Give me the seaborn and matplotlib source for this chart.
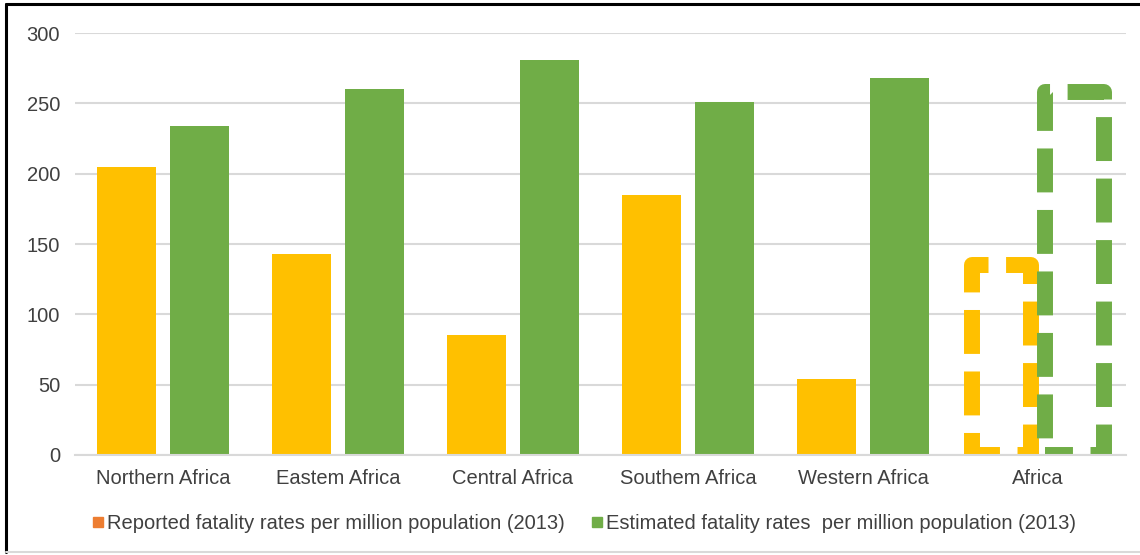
import matplotlib
matplotlib.use("Agg")
import matplotlib.pyplot as plt
from matplotlib.lines import Line2D
import seaborn as sns
import pandas as pd

categories = ["Northern Africa", "Eastern Africa", "Central Africa",
              "Southern Africa", "Western Africa", "Africa"]
tick_labels = ["Northern Africa", "Eastem Africa", "Central Africa",
               "Southem Africa", "Western Africa", "Africa"]
reported = [205, 143, 85, 185, 54, 135]
estimated = [234, 260, 281, 251, 268, 258]
series_names = ["Reported fatality rates per million population (2013)",
                "Estimated fatality rates  per million population (2013)"]

YELLOW = "#FFC000"
GREEN = "#70AD47"
ORANGE = "#ED7D31"
TEXT = "#404040"
GRID = "#D9D9D9"

df = pd.DataFrame({
    "region": categories * 2,
    "value": reported + estimated,
    "series": [series_names[0]] * len(categories) + [series_names[1]] * len(categories),
})

sns.set_theme(style="white")
plt.rcParams["font.family"] = ["Liberation Sans", "DejaVu Sans"]

fig = plt.figure(figsize=(11.4, 5.55), dpi=100)
ax = fig.add_axes([0.0662, 0.1802, 0.9211, 0.7603])

sns.barplot(data=df, x="region", y="value", hue="series", order=categories,
            hue_order=series_names, palette=[YELLOW, GREEN], saturation=1,
            width=0.834, gap=0.18, linewidth=0, errorbar=None, legend=False, ax=ax)

# Africa total bars: unfilled, thick dashed outline
africa_idx = categories.index("Africa")
for p in ax.patches:
    cx = p.get_x() + p.get_width() / 2
    if abs(cx - africa_idx) < 0.45:
        col = p.get_facecolor()
        p.set_facecolor("none")
        p.set_edgecolor(col)
        p.set_linewidth(11.5)
        p.set_linestyle((1.0, (2.75, 1.1)))
        p.set_joinstyle("round")
        p.set_capstyle("butt")

ax.set_xlim(-0.5, len(categories) - 0.5)
ax.set_ylim(0, 300)
ax.set_yticks(range(0, 301, 50))
ax.set_xticks(range(len(categories)))
ax.set_xticklabels(tick_labels)
ax.set_xlabel("")
ax.set_ylabel("")
ax.yaxis.grid(True, color=GRID, linewidth=1.5)
ax.set_axisbelow(True)
for s in ["top", "right", "left"]:
    ax.spines[s].set_visible(False)
ax.spines["bottom"].set_color(GRID)
ax.spines["bottom"].set_linewidth(1.5)
ax.tick_params(axis="both", length=0, labelsize=14.5, labelcolor=TEXT)
ax.tick_params(axis="y", pad=11)
ax.tick_params(axis="x", pad=10)

handles = [Line2D([], [], marker="s", linestyle="none", markersize=7.2,
                  markerfacecolor=ORANGE, markeredgecolor=ORANGE),
           Line2D([], [], marker="s", linestyle="none", markersize=7.2,
                  markerfacecolor=GREEN, markeredgecolor=GREEN)]
leg = fig.legend(handles, series_names, loc="center", bbox_to_anchor=(0.512, 0.056),
                 ncol=2, frameon=False, fontsize=14.5, handlelength=0.6,
                 handletextpad=0.15, columnspacing=1.3, borderpad=0)
for t in leg.get_texts():
    t.set_color(TEXT)

# figure frame
fig.add_artist(Line2D([6 / 1140, 6 / 1140], [1 - 4 / 555, 3 / 555],
                      transform=fig.transFigure, color="black", linewidth=2.2))
fig.add_artist(Line2D([6 / 1140, 1.0], [1 - 4 / 555, 1 - 4 / 555],
                      transform=fig.transFigure, color="black", linewidth=2.2))
fig.add_artist(Line2D([6 / 1140, 1.0], [3 / 555, 3 / 555],
                      transform=fig.transFigure, color=GRID, linewidth=1.5))

fig.savefig("out.png", dpi=100, facecolor="white")
